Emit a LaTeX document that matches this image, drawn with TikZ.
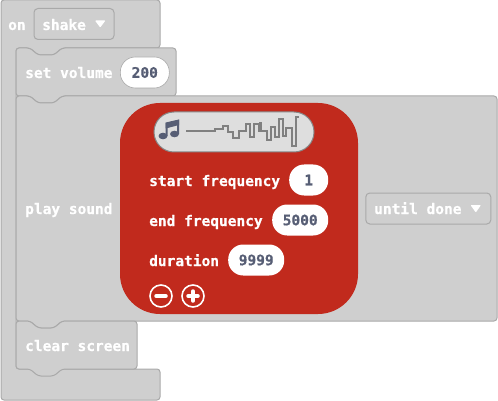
\documentclass[tikz,border=0pt]{standalone}
\usepackage{fontspec}
\setmonofont[BoldFeatures={FakeBold=0.5}]{DejaVu Sans Mono}
\usetikzlibrary{positioning}
\definecolor{blockgray}{HTML}{CFCFCF}
\definecolor{blockline}{HTML}{A9A9A9}
\definecolor{soundred}{HTML}{C12A1D}
\definecolor{fieldtext}{HTML}{575E75}
\tikzset{
  blocktext/.style={inner sep=0pt, anchor=base west, text=white, font=\ttfamily\bfseries\fontsize{14.5}{16}\selectfont},
  numfield/.style={fill=white, rounded corners=15pt, minimum height=31pt, inner sep=0pt, text=fieldtext, font=\ttfamily\bfseries\fontsize{14.5}{16}\selectfont},
  menufield/.style={draw=blockline, line width=1pt, rounded corners=4pt, minimum height=31pt},
  blockshape/.style={draw=blockline, line width=1pt, fill=blockgray, rounded corners=3pt},
  roundbtn/.style={draw=white, line width=1.6pt, circle, minimum size=22pt, inner sep=0pt},
}
\begin{document}
\begin{tikzpicture}[x=1pt,y=-1pt]
\useasboundingbox (0,0) rectangle (498,401);
% outer block
\draw[blockshape] (1,0)--(160,0)--(160,48)--(62,48)--(54,55)--(38,55)--(30,48)--(16,48)--(16,369)--(160,369)--(160,400)--(1,400)--cycle;
% stack
\draw[blockshape] (16,48)--(30,48)--(38,55)--(54,55)--(62,48)--(176,48)--(176,96)--(62,96)--(54,103)--(38,103)--(30,96)--(16,96)--cycle;
\draw[blockshape] (16,96)--(30,96)--(38,103)--(54,103)--(62,96)--(497,96)--(497,321)--(62,321)--(54,328)--(38,328)--(30,321)--(16,321)--cycle;
\draw[blockshape] (16,321)--(30,321)--(38,328)--(54,328)--(62,321)--(137,321)--(137,369)--(62,369)--(54,376)--(38,376)--(30,369)--(16,369)--cycle;
% sound block
\fill[soundred, rounded corners=40pt] (120,103) rectangle (358,314);
\draw[draw=blockline!80!black, line width=1pt, fill=black!13, rounded corners=20pt] (154,112) rectangle (314,152);
% labels
\node[blocktext] (onlabel) at (8,30) {on};
\node[menufield, minimum width=80pt, anchor=west] (shakemenu) at (33.5,24) {};
\node[blocktext] (shakelabel) at (42,30) {shake};
\node[blocktext] (volumelabel) at (25,78) {set volume};
\node[numfield, draw=blockline, line width=.6pt, minimum width=49pt, anchor=west] (volumefield) at (120,72.5) {200};
\node[blocktext] (playlabel) at (25,214) {play sound};
\node[blocktext] (startlabel) at (149,186) {start frequency};
\node[numfield, minimum width=39pt, anchor=west] (startfield) at (289,180) {1};
\node[blocktext] (endlabel) at (149,226) {end frequency};
\node[numfield, minimum width=56pt, anchor=west] (endfield) at (272,220) {5000};
\node[blocktext] (durationlabel) at (149,266) {duration};
\node[numfield, minimum width=56pt, anchor=west] (durationfield) at (228,260) {9999};
\node[menufield, minimum width=125pt, anchor=west] (donemenu) at (365.3,208.5) {};
\node[blocktext] (donelabel) at (374,214) {until done};
\node[blocktext] (clearlabel) at (25,351) {clear screen};
% menu arrows
\fill[white, rounded corners=.8pt] (95,20.5)--(105.5,20.5)--(100.2,27.5)--cycle;
\fill[white, rounded corners=.8pt] (470.5,205)--(481,205)--(475.8,212.5)--cycle;
% buttons
\node[roundbtn] (minusbtn) at (161,296) {};
\node[roundbtn] (plusbtn) at (193,296) {};
\draw[white, line width=3.5pt, line cap=round] (156,296)--(166,296);
\draw[white, line width=3.5pt, line cap=round] (188,296)--(198,296) (193,291)--(193,301);
% music note
\fill[fieldtext] (163,136) ellipse (4.5pt and 3.3pt) (174.5,134) ellipse (4.5pt and 3.3pt);
\draw[fieldtext, line width=2pt] (166.7,136)--(166.7,124)--(178,121)--(178,134);
\fill[fieldtext] (165.7,122.5)--(179,119.5)--(179,125)--(165.7,128.5)--cycle;
% wave
\draw[gray, line width=2pt] (186,130.7)--(215,130.7)--(215,129.5)--(223,129.5)--(223,126.3)--(228,126.3)--(228,132.3)--(233,132.3)--(233,137.7)--(239,137.7)--(239,130.7)--(245.5,130.7)--(245.5,124)--(250,124)--(250,137.3)--(254.3,137.3)--(254.3,124)--(259,124)--(259,131)--(266.7,131)--(266.7,139.7)--(271,139.7)--(271,127)--(275,127)--(275,137)--(279.3,137)--(279.3,118.7)--(282.7,118.7)--(282.7,136)--(286,136)--(286,128)--(291.5,128)--(291.5,146.3)--(296,146.3)--(296,117.3)--(298.7,117.3);
\fill[gray] (259,122)rectangle(262,132);
\end{tikzpicture}
\end{document}
